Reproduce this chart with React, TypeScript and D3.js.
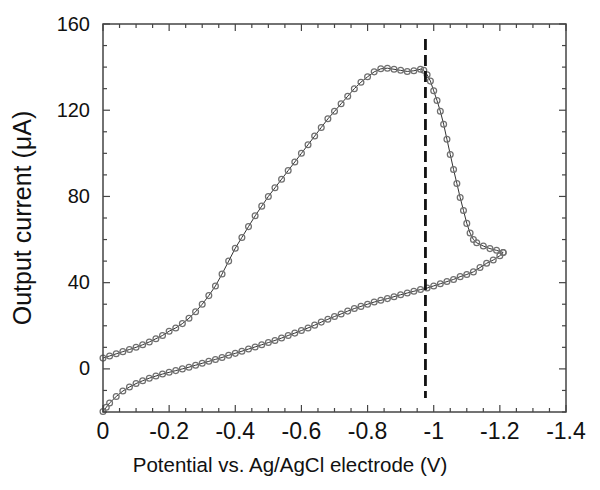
import React, { useEffect, useRef } from 'react';
import * as d3 from 'd3';

// forward scan (upper branch), potential in V and current in uA
const upperV = [
  0, -0.02, -0.04, -0.06, -0.08, -0.1, -0.12, -0.14, -0.16, -0.18,
  -0.2, -0.22, -0.24, -0.26, -0.28, -0.3, -0.32, -0.34, -0.36, -0.38,
  -0.4, -0.42, -0.44, -0.46, -0.48, -0.5, -0.52, -0.54, -0.56, -0.58,
  -0.6, -0.62, -0.64, -0.66, -0.68, -0.7, -0.72, -0.74, -0.76, -0.78,
  -0.8, -0.82, -0.84, -0.86, -0.88, -0.9, -0.92, -0.94, -0.96, -0.97,
  -0.98, -0.99, -1.0, -1.01, -1.02, -1.03, -1.04, -1.05, -1.06, -1.07,
  -1.08, -1.09, -1.1, -1.11, -1.12, -1.13, -1.15, -1.17, -1.19, -1.21,
];
const upperI = [
  5, 6, 7, 8, 9, 10, 11.2, 12.5, 14, 15.5,
  17.5, 19, 21, 23.5, 26.5, 30, 34, 38.5, 44, 50,
  56, 61, 66, 71, 75.5, 80, 84, 88, 92, 96,
  100, 104, 108, 112, 116, 119.5, 123, 126.5, 130, 133,
  135.5, 137.8, 139.2, 139.5, 139, 138.5, 138, 138.3, 139, 138.5,
  136.5, 133.5, 129, 124.5, 119.5, 113.5, 106.5, 99.5, 92.5, 86,
  79.5, 73.5, 67.5, 63, 60, 58.5, 57, 55.8, 55, 54,
];

// reverse scan (lower branch), from the turning point back to 0 V
const lowerV = [
  -1.21, -1.2, -1.18, -1.16, -1.14, -1.12, -1.1, -1.08, -1.06, -1.04,
  -1.02, -1.0, -0.98, -0.96, -0.94, -0.92, -0.9, -0.88, -0.86, -0.84,
  -0.82, -0.8, -0.78, -0.76, -0.74, -0.72, -0.7, -0.68, -0.66, -0.64,
  -0.62, -0.6, -0.58, -0.56, -0.54, -0.52, -0.5, -0.48, -0.46, -0.44,
  -0.42, -0.4, -0.38, -0.36, -0.34, -0.32, -0.3, -0.28, -0.26, -0.24,
  -0.22, -0.2, -0.18, -0.16, -0.14, -0.12, -0.1, -0.08, -0.06, -0.04,
  -0.02, -0.01, 0,
];
const lowerI = [
  54, 52.5, 50.5, 49, 47, 45, 43.8, 42.8, 41.5, 40.5,
  39.5, 38.5, 37.5, 36.8, 36, 35.2, 34.4, 33.5, 32.6, 31.8,
  31, 30, 29, 28, 26.8, 25.5, 24.3, 23, 21.7, 20.3,
  19, 17.8, 16.6, 15.5, 14.3, 13.2, 12.2, 11.2, 10.2, 9.2,
  8.2, 7.2, 6.3, 5.3, 4.4, 3.5, 2.6, 1.7, 0.8, 0,
  -0.8, -1.6, -2.4, -3.3, -4.3, -5.5, -6.8, -8.4, -10.3, -12.8,
  -15.8, -17.8, -19.8,
];

const xTicks = [0, -0.2, -0.4, -0.6, -0.8, -1, -1.2, -1.4];
const xTickLabels = ['0', '-0.2', '-0.4', '-0.6', '-0.8', '-1', '-1.2', '-1.4'];
const yTicks = [0, 40, 80, 120, 160];
const yTickLabels = ['0', '40', '80', '120', '160'];

// dashed marker line at the peak potential
const markerV = -0.975;
const markerRange = [-13.5, 153];

const FONT = '"Liberation Sans", Arial, Helvetica, sans-serif';

export default function App() {
  const svgRef = useRef(null);

  useEffect(() => {
    const svg = d3.select(svgRef.current);
    if (!svg.node()) return;
    svg.selectAll('*').remove();

    const width = 600, height = 490;
    const margin = { top: 24, right: 34, bottom: 78, left: 103 };
    const x = d3.scaleLinear()
      .domain([0, -1.4])
      .range([margin.left, width - margin.right]);
    const y = d3.scaleLinear()
      .domain([-20, 160])
      .range([height - margin.bottom, margin.top]);

    const x0 = x.range()[0], x1 = x.range()[1];
    const yb = y.range()[0], yt = y.range()[1];

    svg.attr('viewBox', `0 0 ${width} ${height}`);
    svg.append('rect').attr('width', width).attr('height', height).attr('fill', '#fff');

    const pts = [
      ...upperV.map((v, i) => [v, upperI[i]]),
      ...lowerV.map((v, i) => [v, lowerI[i]]),
    ];

    const line = d3.line()
      .x(d => x(d[0]))
      .y(d => y(d[1]));

    const plot = svg.append('g');
    plot.append('path')
      .attr('d', line(pts))
      .attr('fill', 'none')
      .attr('stroke', '#333')
      .attr('stroke-width', 1);

    plot.selectAll('circle')
      .data(pts)
      .join('circle')
      .attr('cx', d => x(d[0]))
      .attr('cy', d => y(d[1]))
      .attr('r', 2.9)
      .attr('fill', 'none')
      .attr('stroke', '#6f6f6f')
      .attr('stroke-width', 1.25);

    // dashed line
    svg.append('line')
      .attr('x1', x(markerV)).attr('x2', x(markerV))
      .attr('y1', y(markerRange[1])).attr('y2', y(markerRange[0]))
      .attr('stroke', '#111')
      .attr('stroke-width', 2.8)
      .attr('stroke-dasharray', '11,5');

    // ticks, inward on all four sides
    const ax = svg.append('g').attr('stroke', '#444').attr('stroke-width', 1.2);
    const xMinor = d3.range(0, 29).map(i => -i * 0.05);
    const yMinor = d3.range(0, 19).map(i => -20 + i * 10);

    xMinor.forEach(v => {
      const major = Math.abs(Math.round(v * 5) - v * 5) < 1e-6;
      const len = major ? 7 : 4;
      ax.append('line').attr('x1', x(v)).attr('x2', x(v)).attr('y1', yb).attr('y2', yb - len);
      ax.append('line').attr('x1', x(v)).attr('x2', x(v)).attr('y1', yt).attr('y2', yt + len);
    });
    yMinor.forEach(v => {
      const major = v % 40 === 0;
      const len = major ? 7 : 4;
      ax.append('line').attr('x1', x0).attr('x2', x0 + len).attr('y1', y(v)).attr('y2', y(v));
      ax.append('line').attr('x1', x1).attr('x2', x1 - len).attr('y1', y(v)).attr('y2', y(v));
    });

    // frame
    svg.append('rect')
      .attr('x', x0).attr('y', yt)
      .attr('width', x1 - x0).attr('height', yb - yt)
      .attr('fill', 'none')
      .attr('stroke', '#444')
      .attr('stroke-width', 1.5);

    // tick labels
    svg.append('g')
      .selectAll('text')
      .data(xTicks)
      .join('text')
      .attr('x', d => x(d))
      .attr('y', yb + 27)
      .attr('text-anchor', 'middle')
      .attr('font-family', FONT)
      .attr('font-size', 23)
      .attr('fill', '#111')
      .text((_, i) => xTickLabels[i]);

    svg.append('g')
      .selectAll('text')
      .data(yTicks)
      .join('text')
      .attr('x', x0 - 13)
      .attr('y', d => y(d))
      .attr('dy', '0.33em')
      .attr('text-anchor', 'end')
      .attr('font-family', FONT)
      .attr('font-size', 20)
      .attr('fill', '#111')
      .text((_, i) => yTickLabels[i]);

    // axis titles
    svg.append('text')
      .attr('x', 290)
      .attr('y', 472)
      .attr('text-anchor', 'middle')
      .attr('font-family', FONT)
      .attr('font-size', 20.5)
      .attr('fill', '#111')
      .text('Potential vs. Ag/AgCl electrode (V)');

    svg.append('text')
      .attr('transform', 'translate(31,218) rotate(-90)')
      .attr('text-anchor', 'middle')
      .attr('font-family', FONT)
      .attr('font-size', 25)
      .attr('fill', '#111')
      .text('Output current (\u03bcA)');
  }, []);

  return (
    <svg
      ref={svgRef}
      width={600}
      height={490}
      style={{ position: 'absolute', left: 0, top: 0 }}
    />
  );
}
